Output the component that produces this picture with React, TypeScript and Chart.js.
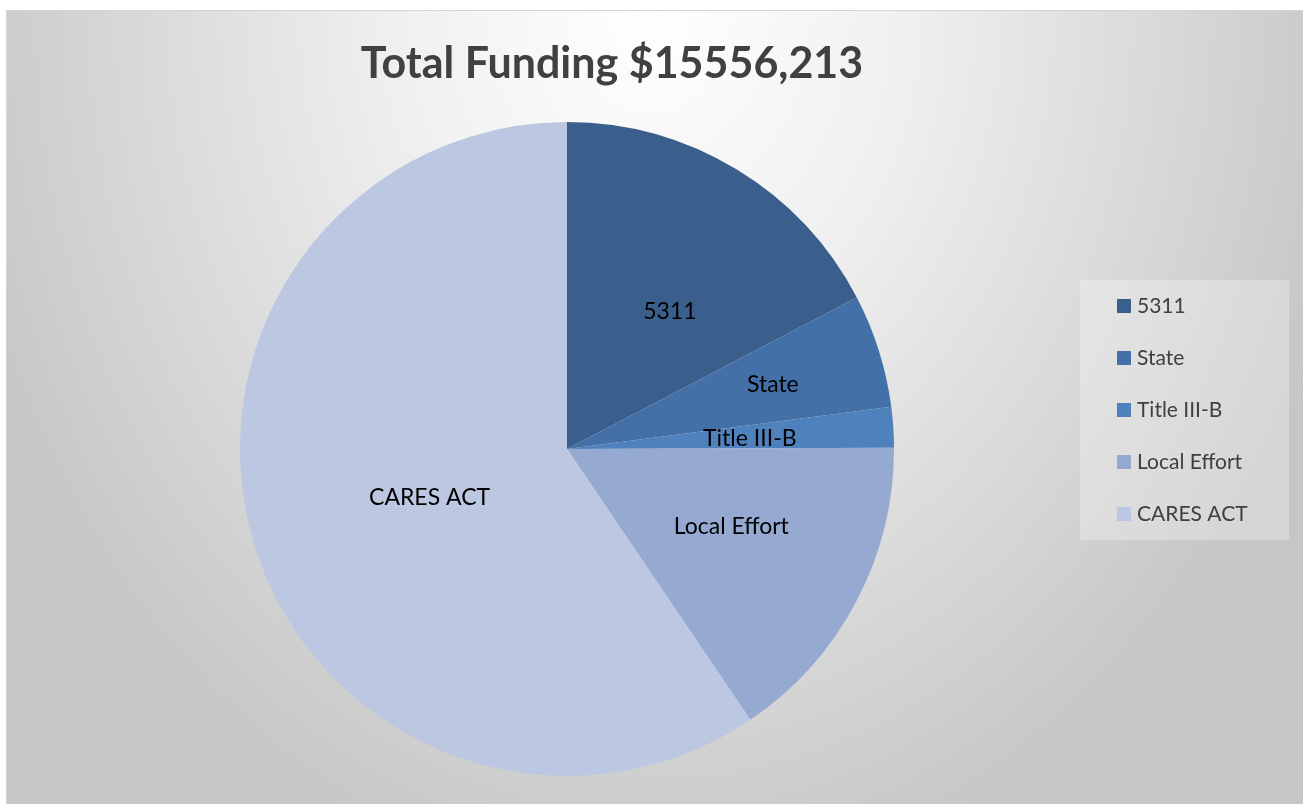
import React, { useEffect, useRef } from "react";
import { Chart, registerables } from "chart.js";

Chart.register(...registerables);

const titleText = "Total Funding $15556,213";
const categories = ["5311", "State", "Title III-B", "Local Effort", "CARES ACT"];
const fundingValues = [2697000, 872000, 311000, 2424000, 9252213];
const sliceColors = ["#3A5F8C", "#4371A7", "#4F81BD", "#95A9D1", "#BCC8E1"];
// label placement: radial fraction and angle shift (degrees) from slice middle
const labelRadius = [0.526, 0.66, 0.56, 0.555, 0.446];
const labelShift = [5.5, 0, 0.5, -2.7, -2.5];

const FONT = "Lato, 'Open Sans', sans-serif";

const bgPlugin = {
  id: "bgPlugin",
  beforeDraw(chart: any) {
    const { ctx, width, height } = chart;
    ctx.save();
    ctx.fillStyle = "#ffffff";
    ctx.fillRect(0, 0, width, height);
    const x0 = 6, y0 = 10, w = width - x0, h = height - y0;
    ctx.save();
    ctx.beginPath();
    ctx.rect(x0, y0, w, h);
    ctx.clip();
    const cx = 650, cy = 10, rx = 720, ry = 900;
    ctx.translate(cx, cy);
    ctx.scale(rx / ry, 1);
    const g = ctx.createRadialGradient(0, 0, 0, 0, 0, ry);
    g.addColorStop(0, "#ffffff");
    g.addColorStop(0.35, "#f0f0f0");
    g.addColorStop(1, "#c6c6c6");
    ctx.fillStyle = g;
    ctx.fillRect(-3000, -3000, 6000, 6000);
    ctx.restore();
    ctx.strokeStyle = "#d4d4d4";
    ctx.lineWidth = 1;
    ctx.strokeRect(x0 + 0.5, y0 + 0.5, w + 5, h + 5);
    ctx.restore();
  },
};

const decorPlugin = {
  id: "decorPlugin",
  afterDraw(chart: any) {
    const { ctx } = chart;
    ctx.save();
    // title
    ctx.fillStyle = "#404040";
    ctx.font = `bold 43px ${FONT}`;
    ctx.textAlign = "center";
    ctx.textBaseline = "middle";
    ctx.fillText(titleText, 612, 64);

    // data labels
    const meta = chart.getDatasetMeta(0);
    ctx.fillStyle = "#000000";
    ctx.font = `23px ${FONT}`;
    meta.data.forEach((arc: any, i: number) => {
      const p = arc.getProps(["x", "y", "startAngle", "endAngle", "outerRadius"], true);
      const mid = (p.startAngle + p.endAngle) / 2 + (labelShift[i] * Math.PI) / 180;
      const r = p.outerRadius * labelRadius[i];
      const lx = p.x + Math.cos(mid) * r;
      const ly = p.y + Math.sin(mid) * r;
      ctx.fillText(chart.data.labels[i], lx, ly);
    });

    // legend
    const bx = 1080, by = 280, bw = 209, bh = 260;
    ctx.fillStyle = "rgba(255,255,255,0.28)";
    ctx.fillRect(bx, by, bw, bh);
    ctx.font = `21px ${FONT}`;
    ctx.textAlign = "left";
    const colors = chart.data.datasets[0].backgroundColor;
    chart.data.labels.forEach((lab: string, i: number) => {
      const cy = 306 + i * 52;
      ctx.fillStyle = colors[i];
      ctx.fillRect(1117, cy - 7, 14, 14);
      ctx.fillStyle = "#404040";
      ctx.fillText(lab, 1137, cy);
    });
    ctx.restore();
  },
};

export default function App() {
  const ref = useRef<HTMLCanvasElement | null>(null);
  useEffect(() => {
    document.body.style.margin = "0";
    if (!ref.current) return;
    const chart = new Chart(ref.current, {
      type: "pie",
      data: {
        labels: categories,
        datasets: [
          {
            data: fundingValues,
            backgroundColor: sliceColors,
            borderWidth: 0,
          },
        ],
      },
      options: {
        responsive: false,
        animation: false,
        layout: { padding: { left: 240, top: 122, right: 409, bottom: 28 } },
        plugins: {
          legend: { display: false },
          title: { display: false },
          tooltip: { enabled: false },
        },
      },
      plugins: [bgPlugin, decorPlugin],
    });
    return () => chart.destroy();
  }, []);
  return (
    <div style={{ width: 1303, height: 804 }}>
      <canvas ref={ref} width={1303} height={804} />
    </div>
  );
}
